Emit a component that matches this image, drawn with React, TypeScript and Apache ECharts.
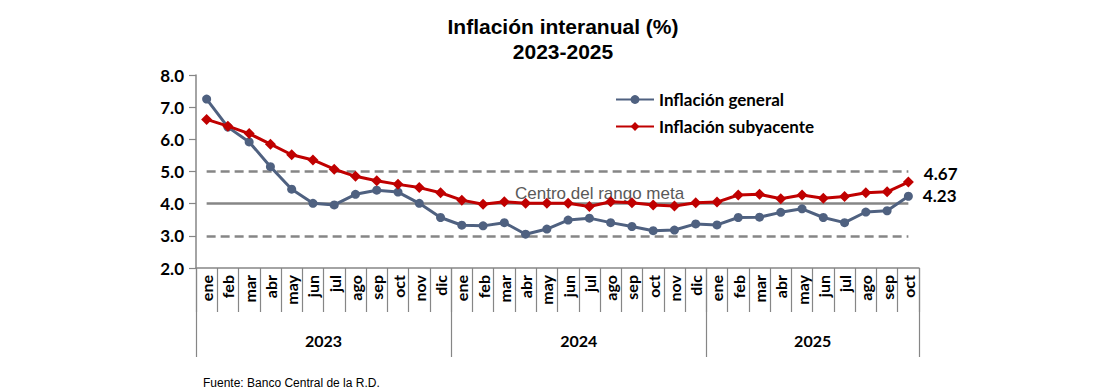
import React, { useEffect, useRef } from "react";
import * as echarts from "echarts";

const months2023 = ["ene", "feb", "mar", "abr", "may", "jun", "jul", "ago", "sep", "oct", "nov", "dic"];
const months2024 = ["ene", "feb", "mar", "abr", "may", "jun", "jul", "ago", "sep", "oct", "nov", "dic"];
const months2025 = ["ene", "feb", "mar", "abr", "may", "jun", "jul", "ago", "sep", "oct"];
const years = ["2023", "2024", "2025"];

const general = [
  7.25, 6.38, 5.92, 5.15, 4.45, 4.01, 3.96, 4.29, 4.42, 4.36, 4.01, 3.57,
  3.33, 3.31, 3.41, 3.05, 3.21, 3.49, 3.55, 3.41, 3.29, 3.16, 3.18, 3.37,
  3.34, 3.57, 3.58, 3.73, 3.84, 3.57, 3.41, 3.74, 3.78, 4.23,
];
const subyacente = [
  6.62, 6.41, 6.18, 5.85, 5.52, 5.36, 5.07, 4.85, 4.71, 4.6, 4.5, 4.34,
  4.11, 3.98, 4.06, 4.01, 4.01, 4.01, 3.91, 4.06, 4.03, 3.96, 3.93, 4.03,
  4.05, 4.27, 4.29, 4.15, 4.27, 4.17, 4.22, 4.34, 4.37, 4.67,
];
const rangoMeta = { upper: 5.0, center: 4.0, lower: 3.0 };
const yTicks = { min: 2, max: 8, interval: 1 };

const monthGroups = [months2023, months2024, months2025];
const categories: string[] = [];
monthGroups.forEach((g, yi) => g.forEach((m) => categories.push(m + "-" + years[yi])));
const yearBounds: number[] = [0];
monthGroups.forEach((g) => yearBounds.push(yearBounds[yearBounds.length - 1] + g.length));
const yearCenters = years.map((_, i) => (yearBounds[i] + yearBounds[i + 1]) / 2);

const GRAY = "#868686";
const BLUE = "#4f6180";
const RED = "#c00000";
const LBL = "Lato, 'Noto Sans', sans-serif";

export default function App() {
  const ref = useRef<HTMLDivElement>(null);
  useEffect(() => {
    if (!ref.current) return;
    const chart = echarts.init(ref.current, undefined, { renderer: "svg" });
    const last = categories.length - 1;
    const refLine = (v: number, type: any) => [
      { coord: [0, v], lineStyle: { type, color: GRAY, width: 2.5 } },
      { coord: [last, v] },
    ];
    chart.setOption({
      animation: false,
      backgroundColor: "#ffffff",
      title: {
        text: "Inflación interanual (%)\n2023-2025",
        left: 558,
        textAlign: "center",
        top: 9,
        textStyle: {
          fontFamily: "'Liberation Sans', Arial, sans-serif",
          fontWeight: "bold",
          fontSize: 21,
          lineHeight: 25,
          color: "#000",
        },
      },
      legend: {
        orient: "vertical",
        left: 610,
        top: 86,
        itemWidth: 38,
        itemHeight: 11,
        itemGap: 10,
        textStyle: { fontFamily: LBL, fontWeight: "bold", fontSize: 17, color: "#000" },
        data: ["Inflación general", "Inflación subyacente"],
      },
      grid: { left: 196, top: 75, width: 723, height: 193, containLabel: false },
      xAxis: [
        {
          type: "category",
          data: categories,
          boundaryGap: true,
          axisLine: { lineStyle: { color: GRAY, width: 1.5 } },
          axisTick: { show: true, interval: 0, length: 44, lineStyle: { color: GRAY, width: 1.2 } },
          axisLabel: {
            interval: 0,
            rotate: 90,
            margin: 7,
            formatter: (v: string) => v.split("-")[0],
            fontFamily: LBL,
            fontWeight: "bold",
            fontSize: 16,
            color: "#000",
          },
          splitLine: { show: false },
        },
        {
          type: "value",
          min: 0,
          max: categories.length,
          position: "bottom",
          axisLine: { show: false },
          axisTick: {
            show: true,
            length: 89,
            customValues: yearBounds,
            lineStyle: { color: GRAY, width: 1.2 },
          },
          axisLabel: {
            show: true,
            customValues: yearCenters,
            margin: 64,
            formatter: (v: number) => {
              const i = yearCenters.findIndex((c) => Math.abs(c - v) < 0.01);
              return i >= 0 ? years[i] : "";
            },
            fontFamily: LBL,
            fontWeight: "bold",
            fontSize: 16,
            color: "#000",
          },
          splitLine: { show: false },
        },
      ],
      yAxis: {
        type: "value",
        min: yTicks.min,
        max: yTicks.max,
        interval: yTicks.interval,
        axisLine: { show: true, lineStyle: { color: GRAY, width: 1.5 } },
        axisTick: { show: true, length: 7, lineStyle: { color: GRAY, width: 1.2 } },
        axisLabel: {
          margin: 12,
          formatter: (v: number) => v.toFixed(1),
          fontFamily: LBL,
          fontWeight: "bold",
          fontSize: 17,
          color: "#000",
        },
        splitLine: { show: false },
      },
      graphic: [
        {
          type: "text",
          left: 515,
          top: 185,
          silent: true,
          style: {
            text: "Centro del rango meta",
            fontFamily: "'Liberation Sans', Arial, sans-serif",
            fontSize: 17,
            fill: "#595959",
          },
        },
        {
          type: "text",
          left: 203,
          top: 377,
          silent: true,
          style: {
            text: "Fuente: Banco Central de la R.D.",
            fontFamily: "'Liberation Sans', Arial, sans-serif",
            fontSize: 12,
            fill: "#000",
          },
        },
      ],
      series: [
        {
          name: "Inflación general",
          type: "line",
          data: general,
          symbol: "circle",
          symbolSize: 9,
          lineStyle: { color: BLUE, width: 3 },
          itemStyle: { color: BLUE },
          z: 3,
          label: {
            show: true,
            position: "right",
            distance: 10,
            offset: [0, -1],
            formatter: (p: any) => (p.dataIndex === last ? p.value.toFixed(2) : ""),
            fontFamily: LBL,
            fontWeight: "bold",
            fontSize: 17,
            color: "#000",
          },
          markLine: {
            silent: true,
            symbol: "none",
            label: { show: false },
            z: 1,
            data: [
              refLine(rangoMeta.upper, [9, 5]),
              refLine(rangoMeta.center, "solid"),
              refLine(rangoMeta.lower, [9, 5]),
            ],
          },
        },
        {
          name: "Inflación subyacente",
          type: "line",
          data: subyacente,
          symbol: "diamond",
          symbolSize: 11,
          lineStyle: { color: RED, width: 3 },
          itemStyle: { color: RED },
          z: 4,
          label: {
            show: true,
            position: "right",
            distance: 10,
            offset: [0, -9],
            formatter: (p: any) => (p.dataIndex === last ? p.value.toFixed(2) : ""),
            fontFamily: LBL,
            fontWeight: "bold",
            fontSize: 17,
            color: "#000",
          },
        },
      ],
    });
    return () => chart.dispose();
  }, []);
  return (
    <div
      ref={ref}
      style={{ position: "fixed", left: 0, top: 0, width: 1116, height: 390, background: "#fff" }}
    />
  );
}
